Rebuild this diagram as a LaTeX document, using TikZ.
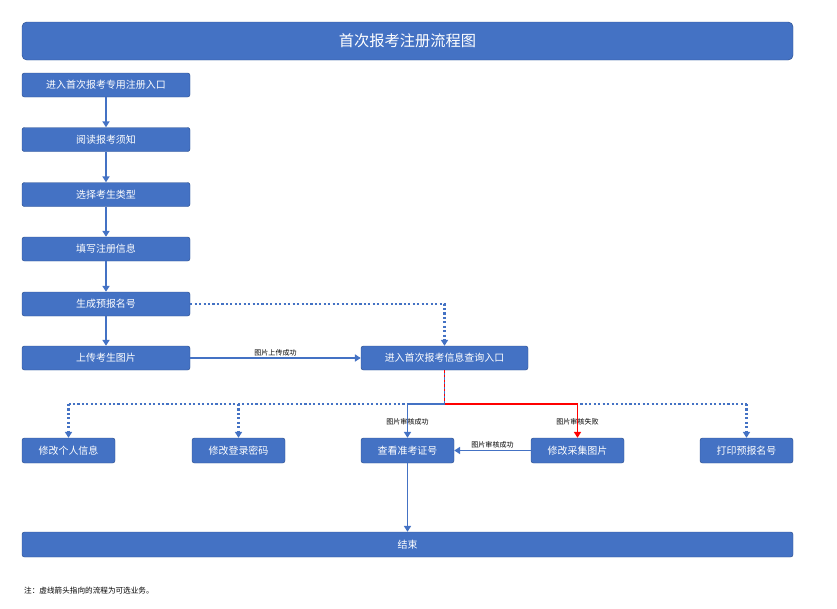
\documentclass[tikz,border=0pt]{standalone}
\usepackage{fontspec}
\setmainfont{Noto Sans CJK SC}
\usetikzlibrary{arrows.meta}
\definecolor{boxblue}{HTML}{4472C4}
\definecolor{boxline}{HTML}{2F528F}
\tikzset{
  box/.style={draw=boxline, fill=boxblue, rounded corners=2pt, text=white, font=\fontsize{8.5}{10}\selectfont, inner sep=0pt},
  flow/.style={draw=boxblue, line width=1.5pt, -{Triangle[length=5pt,width=6pt]}},
  opt/.style={draw=boxblue, line width=1.8pt, dotted, -{Triangle[length=5pt,width=6pt]}},
  lbl/.style={font=\fontsize{6}{7}\selectfont, inner sep=1pt}
}
\begin{document}
\begin{tikzpicture}[x=0.03cm, y=-0.03cm]
	\useasboundingbox (0,0) rectangle (837,608);
	\node[box, rounded corners=4pt, minimum width=771*0.03cm, minimum height=38*0.03cm, font=\fontsize{13}{15}\selectfont] (title) at (407.5,41) {首次报考注册流程图};
	% left column
	\node[box, minimum width=168*0.03cm, minimum height=24*0.03cm] (entry) at (106,85) {进入首次报考专用注册入口};
	\node[box, minimum width=168*0.03cm, minimum height=24*0.03cm] (read) at (106,139.5) {阅读报考须知};
	\node[box, minimum width=168*0.03cm, minimum height=24*0.03cm] (type) at (106,194.5) {选择考生类型};
	\node[box, minimum width=168*0.03cm, minimum height=24*0.03cm] (fill) at (106,249) {填写注册信息};
	\node[box, minimum width=168*0.03cm, minimum height=24*0.03cm] (gen) at (106,304) {生成预报名号};
	\node[box, minimum width=168*0.03cm, minimum height=24*0.03cm] (photo) at (106,358) {上传考生图片};
	\node[box, minimum width=167*0.03cm, minimum height=24*0.03cm] (query) at (444.5,358) {进入首次报考信息查询入口};
	% bottom row
	\node[box, minimum width=93*0.03cm, minimum height=25*0.03cm] (info) at (68.5,450.5) {修改个人信息};
	\node[box, minimum width=93*0.03cm, minimum height=25*0.03cm] (pwd) at (238.5,450.5) {修改登录密码};
	\node[box, minimum width=93*0.03cm, minimum height=25*0.03cm] (card) at (407.5,450.5) {查看准考证号};
	\node[box, minimum width=93*0.03cm, minimum height=25*0.03cm] (repic) at (577.5,450.5) {修改采集图片};
	\node[box, minimum width=93*0.03cm, minimum height=25*0.03cm] (print) at (746.5,450.5) {打印预报名号};
	\node[box, minimum width=771*0.03cm, minimum height=25*0.03cm] (end) at (407.5,544.5) {结束};
	\node[anchor=west, font=\fontsize{6.5}{8}\selectfont, inner sep=0pt] (note) at (24,591) {注：虚线箭头指向的流程为可选业务。};
	% main flow
	\draw[flow] (entry) -- (read);
	\draw[flow] (read) -- (type);
	\draw[flow] (type) -- (fill);
	\draw[flow] (fill) -- (gen);
	\draw[flow] (gen) -- (photo);
	\draw[flow] (photo) -- node[lbl, above] {图片上传成功} (query);
	\draw[opt] (gen.east) -| (query.north);
	% optional branches
	\coordinate (split) at (444.5,404);
	\draw[boxblue, line width=1.8pt, dotted] (68.5,404) -- (746.5,404);
	\draw[opt] (68.5,404) -- (info.north);
	\draw[opt] (238.5,404) -- (pwd.north);
	\draw[opt] (746.5,404) -- (print.north);
	\draw[boxblue, line width=1.5pt] (query.south) -- (split);
	\draw[red, line width=1.5pt, dashed, dash pattern=on 2pt off 2pt] (query.south) -- (split);
	\draw[flow] (split) -| node[lbl, pos=0.75, left=-18pt, yshift=-8pt] {} (card.north);
	\draw[flow, draw=red, -{Triangle[length=5pt,width=6pt]}] (split) -| (repic.north);
	\node[lbl] (okA) at (407.5,422) {图片审核成功};
	\node[lbl] (fail) at (577.5,422) {图片审核失败};
	\draw[flow] (repic) -- node[lbl, above] {图片审核成功} (card);
	\draw[flow] (card) -- (end);
\end{tikzpicture}
\end{document}
